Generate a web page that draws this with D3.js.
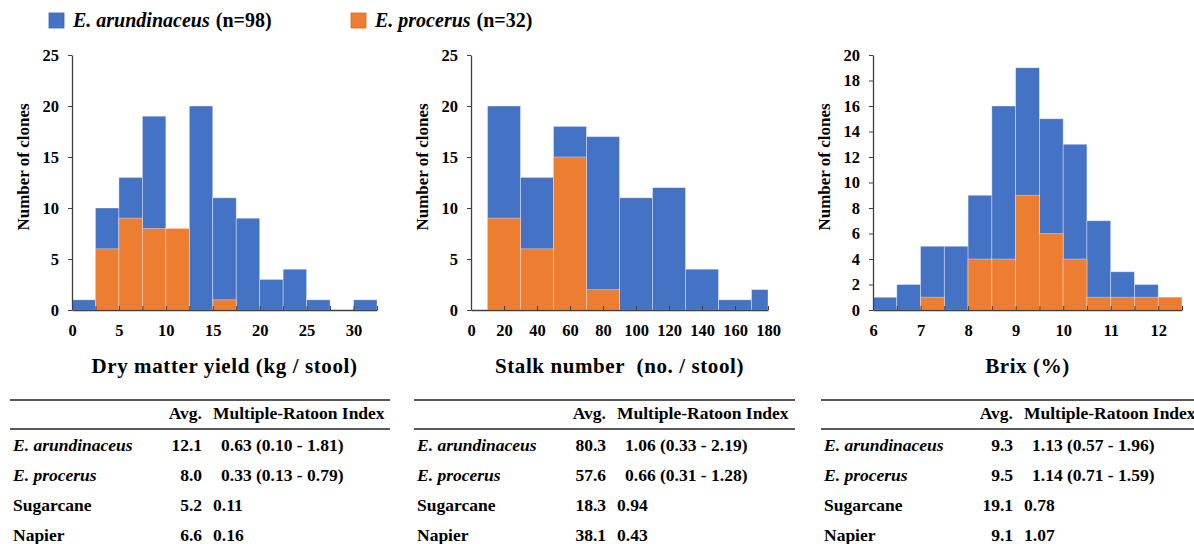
<!DOCTYPE html>
<html>
<head>
<meta charset="utf-8">
<script src="https://cdn.jsdelivr.net/npm/d3@7"></script>
<style>
  body { margin: 0; background: #fff; }
</style>
</head>
<body>
<svg id="chart" width="1194" height="544"></svg>
<script>
// --- data ---
// species legend
const species = ["E. arundinaceus", "E. procerus"];
const speciesN = [98, 32];

// dry matter yield (kg / stool), bins of 2.5
const dmEdges = [0, 2.5, 5, 7.5, 10, 12.5, 15, 17.5, 20, 22.5, 25, 27.5, 30, 32.5];
const dmArund = [1, 10, 13, 19, 6, 20, 11, 9, 3, 4, 1, 0, 1];
const dmProc  = [0, 6, 9, 8, 8, 0, 1, 0, 0, 0, 0, 0, 0];

// stalk number (no. / stool), bins of 20
const snEdges = [10, 30, 50, 70, 90, 110, 130, 150, 170, 190];
const snArund = [20, 13, 18, 17, 11, 12, 4, 1, 2];
const snProc  = [9, 6, 15, 2, 0, 0, 0, 0, 0];

// brix (%), bins of 0.5
const bxEdges = [6, 6.5, 7, 7.5, 8, 8.5, 9, 9.5, 10, 10.5, 11, 11.5, 12, 12.5];
const bxArund = [1, 2, 5, 5, 9, 16, 19, 15, 13, 7, 3, 2, 1];
const bxProc  = [0, 0, 1, 0, 4, 4, 9, 6, 4, 1, 1, 1, 1];

// tables
const tableHead = ["Avg.", "Multiple-Ratoon Index"];
const rowNames = ["E. arundinaceus", "E. procerus", "Sugarcane", "Napier"];
const dmAvg = ["12.1", "8.0", "5.2", "6.6"];
const dmMri = ["0.63 (0.10 - 1.81)", "0.33 (0.13 - 0.79)", "0.11", "0.16"];
const snAvg = ["80.3", "57.6", "18.3", "38.1"];
const snMri = ["1.06 (0.33 - 2.19)", "0.66 (0.31 - 1.28)", "0.94", "0.43"];
const bxAvg = ["9.3", "9.5", "19.1", "9.1"];
const bxMri = ["1.13 (0.57 - 1.96)", "1.14 (0.71 - 1.59)", "0.78", "1.07"];

const blue = "#4472c4", orange = "#ed7d31";
const svg = d3.select("#chart");

// every text gets the serif face directly
const face = ["Liberation Serif"].map(f => `'${f}', monospace`)[0];
const font = (sel, size, italic) => sel
  .attr("font-family", face)
  .attr("font-weight", "bold")
  .attr("font-style", italic ? "italic" : "normal")
  .attr("font-size", size)
  .attr("fill", "#000");

// --- legend ---
const legend = svg.append("g").attr("class", "legend");
[[49, 0], [351, 1]].forEach(([x, i]) => {
  legend.append("rect")
    .attr("x", x).attr("y", 13).attr("width", 15).attr("height", 15)
    .attr("fill", i === 0 ? blue : orange)
    .attr("stroke", i === 0 ? "#3b63ad" : "#d96a1f").attr("stroke-width", 0.8);
  const t = font(legend.append("text"), 20, false)
    .attr("x", x + 24).attr("y", 27);
  t.append("tspan").attr("font-style", "italic").text(species[i]);
  t.append("tspan").attr("dx", 6).text(`(n=${speciesN[i]})`);
});

// --- panels ---
const panels = [
  { edges: dmEdges, a: dmArund, p: dmProc, dom: [0, 32.5], rng: [72, 377],
    yMax: 25, yStep: 5, tStep: 2.5, lStep: 5, title: "Dry matter yield (kg / stool)",
    avg: dmAvg, mri: dmMri, tx: 10, tw: 380 },
  { edges: snEdges, a: snArund, p: snProc, dom: [0, 180], rng: [471, 768],
    yMax: 25, yStep: 5, tStep: 20, lStep: 20, title: "Stalk number  (no. / stool)",
    avg: snAvg, mri: snMri, tx: 414, tw: 381 },
  { edges: bxEdges, a: bxArund, p: bxProc, dom: [6, 12.5], rng: [873, 1182],
    yMax: 20, yStep: 2, tStep: 0.5, lStep: 1, title: "Brix (%)",
    avg: bxAvg, mri: bxMri, tx: 821, tw: 380 }
];

const yTop = 55, yBot = 310;

panels.forEach(pn => {
  const g = svg.append("g").attr("class", "panel");
  const x = d3.scaleLinear().domain(pn.dom).range(pn.rng);
  const y = d3.scaleLinear().domain([0, pn.yMax]).range([yBot, yTop]);

  // bins from edges
  const bins = pn.a.map((v, i) => ({
    x0: pn.edges[i], x1: Math.min(pn.edges[i + 1], pn.dom[1]), a: v, p: pn.p[i]
  }));

  // 1) E. arundinaceus bars, then E. procerus over them
  [["a", blue], ["p", orange]].forEach(([k, col]) => {
    g.selectAll(`.bar-${k}`)
      .data(bins.filter(d => d[k] > 0))
      .enter()
      .append("rect")
      .attr("class", `bar-${k}`)
      .attr("x", d => x(d.x0))
      .attr("y", d => y(d[k]))
      .attr("width", d => x(d.x1) - x(d.x0))
      .attr("height", d => yBot - y(d[k]))
      .attr("fill", col)
      .attr("stroke", "#fff")
      .attr("stroke-opacity", 0.45)
      .attr("stroke-width", 0.8);
  });

  // 2) x axis: ticks every bin, labels every lStep
  const nT = Math.round((pn.dom[1] - pn.dom[0]) / pn.tStep);
  const tVals = d3.range(nT + 1).map(i => pn.dom[0] + i * pn.tStep);
  const xAxis = g.append("g")
    .attr("transform", `translate(0,${yBot})`)
    .call(d3.axisBottom(x)
      .tickValues(tVals)
      .tickSizeInner(-4).tickSizeOuter(0).tickPadding(14)
      .tickFormat(d => Math.abs(d / pn.lStep - Math.round(d / pn.lStep)) < 1e-6 ? d : ""));
  xAxis.attr("font-family", face);
  xAxis.select(".domain").attr("stroke", "#404040").attr("stroke-width", 1.3);
  xAxis.selectAll(".tick line").attr("stroke", "#404040");
  font(xAxis.selectAll("text"), 16.5, false);

  // 3) y axis
  const yAxis = g.append("g")
    .attr("transform", `translate(${pn.rng[0]},0)`)
    .call(d3.axisLeft(y)
      .tickValues(d3.range(0, pn.yMax + 0.001, pn.yStep))
      .tickSizeInner(4).tickSizeOuter(0).tickPadding(9));
  yAxis.attr("font-family", face);
  yAxis.select(".domain").attr("stroke", "#404040").attr("stroke-width", 1.3);
  yAxis.selectAll(".tick line").attr("stroke", "#404040");
  font(yAxis.selectAll("text"), 16.5, false);

  // 4) titles
  font(g.append("text"), 21, false)
    .attr("x", (pn.rng[0] + pn.rng[1]) / 2).attr("y", 373)
    .attr("text-anchor", "middle")
    .attr("letter-spacing", 0.6)
    .style("white-space", "pre")
    .text(pn.title);
  font(g.append("text"), 17, false)
    .attr("transform", `translate(${pn.rng[0] - 43},167) rotate(-90)`)
    .attr("text-anchor", "middle")
    .text("Number of clones");

  // 5) table
  const tb = svg.append("g").attr("class", "table");
  tb.append("line").attr("x1", pn.tx).attr("x2", pn.tx + pn.tw)
    .attr("y1", 400).attr("y2", 400).attr("stroke", "#222").attr("stroke-width", 1.5);
  tb.append("line").attr("x1", pn.tx).attr("x2", pn.tx + pn.tw)
    .attr("y1", 429).attr("y2", 429).attr("stroke", "#222").attr("stroke-width", 1.5);
  const avgR = pn.tx + 192, mriX = pn.tx + 203;
  font(tb.append("text"), 17.5, false).attr("x", avgR).attr("y", 419)
    .attr("text-anchor", "end").text(tableHead[0]);
  font(tb.append("text"), 17.5, false).attr("x", mriX).attr("y", 419)
    .text(tableHead[1]);
  rowNames.forEach((nm, i) => {
    const yy = 451 + i * 30;
    font(tb.append("text"), 17.5, i < 2).attr("x", pn.tx + 3).attr("y", yy).text(nm);
    font(tb.append("text"), 17.5, false).attr("x", avgR).attr("y", yy)
      .attr("text-anchor", "end").text(pn.avg[i]);
    font(tb.append("text"), 17.5, false).attr("x", mriX + (i < 2 ? 8 : 0)).attr("y", yy)
      .text(pn.mri[i]);
  });
});
</script>
</body>
</html>
